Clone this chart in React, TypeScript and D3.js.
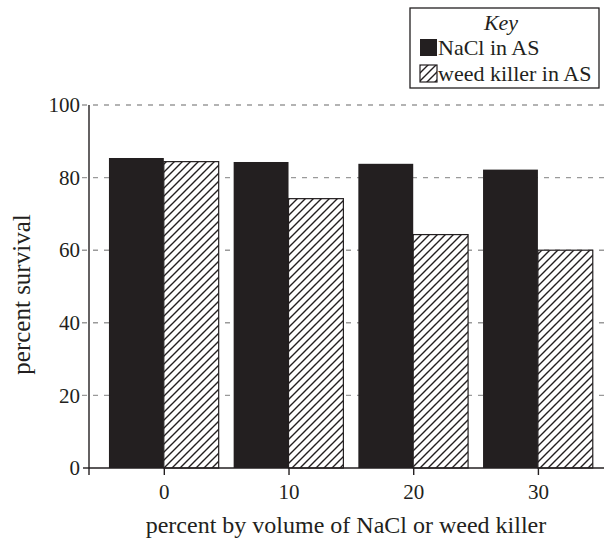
import React, { useEffect, useRef } from "react";
import * as d3 from "d3";

// volume percentages on the x axis
const concentrations = [0, 10, 20, 30];
// percent survival
const naclSurvival = [85.4, 84.3, 83.8, 82.2];
const weedSurvival = [84.4, 74.2, 64.3, 60.0];
const yTicks = [0, 20, 40, 60, 80, 100];
const legendLabels = ["NaCl in AS", "weed killer in AS"];

const INK = "#231f20";
const FONT = "'Liberation Serif', 'Times New Roman', serif";

const SurvivalChart: React.FC = () => {
  const svgRef = useRef<SVGSVGElement>(null);

  useEffect(() => {
    const width = 604;
    const height = 540;
    const left = 89;
    const top = 105;
    const bottom = 468;

    const root = d3.select(svgRef.current);
    root.selectAll("*").remove();
    const svg = root.attr("width", width).attr("height", height);

    // hatch pattern
    const defs = svg.append("defs");
    const pat = defs
      .append("pattern")
      .attr("id", "hatch")
      .attr("patternUnits", "userSpaceOnUse")
      .attr("width", 8)
      .attr("height", 8);
    pat.append("rect").attr("width", 8).attr("height", 8).attr("fill", "white");
    pat
      .append("path")
      .attr("d", "M-2,2 L2,-2 M0,8 L8,0 M6,10 L10,6")
      .attr("stroke", INK)
      .attr("stroke-width", 1.4);

    const x = d3.scaleLinear().domain([-6, 35.3]).range([left, width]);
    const y = d3.scaleLinear().domain([0, 100]).range([bottom, top]);
    const half = 4.4; // bar width in x units

    // dashed gridlines (they also serve as the y ticks)
    svg
      .append("g")
      .selectAll("line")
      .data(yTicks.filter((d) => d > 0))
      .join("line")
      .attr("x1", left - 7)
      .attr("x2", width)
      .attr("y1", (d) => y(d))
      .attr("y2", (d) => y(d))
      .attr("stroke", "#9a9a9a")
      .attr("stroke-width", 1.4)
      .attr("stroke-dasharray", "5,6");

    // bars
    svg
      .append("g")
      .selectAll("rect")
      .data(concentrations)
      .join("rect")
      .attr("x", (d) => x(d - half))
      .attr("width", (d) => x(d) - x(d - half))
      .attr("y", (_, i) => y(naclSurvival[i]))
      .attr("height", (_, i) => y(0) - y(naclSurvival[i]))
      .attr("fill", INK);

    svg
      .append("g")
      .selectAll("rect")
      .data(concentrations)
      .join("rect")
      .attr("x", (d) => x(d))
      .attr("width", (d) => x(d + half) - x(d))
      .attr("y", (_, i) => y(weedSurvival[i]))
      .attr("height", (_, i) => y(0) - y(weedSurvival[i]))
      .attr("fill", "url(#hatch)")
      .attr("stroke", INK)
      .attr("stroke-width", 1.2);

    // y axis
    const yAxis = svg
      .append("g")
      .attr("transform", `translate(${left},0)`)
      .call(
        d3
          .axisLeft(y)
          .tickValues(yTicks)
          .tickSize(0)
          .tickPadding(9)
          .tickFormat(d3.format("d"))
      );
    yAxis.select(".domain").attr("d", `M0,${top}V${bottom + 7}`).attr("stroke", INK).attr("stroke-width", 1.4);
    yAxis
      .selectAll("text")
      .attr("font-family", FONT)
      .attr("font-size", 21)
      .attr("fill", INK);
    yAxis
      .append("line")
      .attr("x1", -6)
      .attr("x2", 0)
      .attr("y1", y(0))
      .attr("y2", y(0))
      .attr("stroke", INK)
      .attr("stroke-width", 1.4);

    // x axis
    const xAxis = svg
      .append("g")
      .attr("transform", `translate(0,${bottom})`)
      .call(d3.axisBottom(x).tickValues(concentrations).tickSize(7).tickPadding(9).tickFormat(d3.format("d")));
    xAxis.select(".domain").attr("d", `M${left},0H${width}`).attr("stroke", INK).attr("stroke-width", 1.4);
    xAxis.selectAll(".tick line").attr("stroke", INK).attr("stroke-width", 1.4);
    xAxis
      .selectAll("text")
      .attr("font-family", FONT)
      .attr("font-size", 21)
      .attr("fill", INK);

    // axis titles
    svg
      .append("text")
      .attr("x", 346)
      .attr("y", 533)
      .attr("text-anchor", "middle")
      .attr("font-family", FONT)
      .attr("font-size", 24)
      .attr("fill", INK)
      .text("percent by volume of NaCl or weed killer");

    svg
      .append("text")
      .attr("transform", `translate(30,294.5) rotate(-90)`)
      .attr("text-anchor", "middle")
      .attr("font-family", FONT)
      .attr("font-size", 25)
      .attr("fill", INK)
      .text("percent survival");

    // legend
    const lg = svg.append("g").attr("transform", "translate(410,8)");
    lg.append("rect")
      .attr("width", 189)
      .attr("height", 80)
      .attr("fill", "white")
      .attr("stroke", INK)
      .attr("stroke-width", 1.3);
    lg.append("text")
      .attr("x", 91)
      .attr("y", 22)
      .attr("text-anchor", "middle")
      .attr("font-family", FONT)
      .attr("font-style", "italic")
      .attr("font-size", 22)
      .attr("fill", INK)
      .text("Key");
    const rows = lg
      .selectAll("g.row")
      .data(legendLabels)
      .join("g")
      .attr("class", "row")
      .attr("transform", (_, i) => `translate(10,${31 + i * 26})`);
    rows
      .append("rect")
      .attr("width", 17)
      .attr("height", 17)
      .attr("fill", (_, i) => (i === 0 ? INK : "url(#hatch)"))
      .attr("stroke", INK)
      .attr("stroke-width", (_, i) => (i === 0 ? 0 : 1.2));
    rows
      .append("text")
      .attr("x", 18)
      .attr("y", 16)
      .attr("font-family", FONT)
      .attr("font-size", 22)
      .attr("fill", INK)
      .text((d) => d);
  }, []);

  return <svg ref={svgRef} style={{ position: "absolute", left: 0, top: 0 }}></svg>;
};

export default function App() {
  return <SurvivalChart />;
}
